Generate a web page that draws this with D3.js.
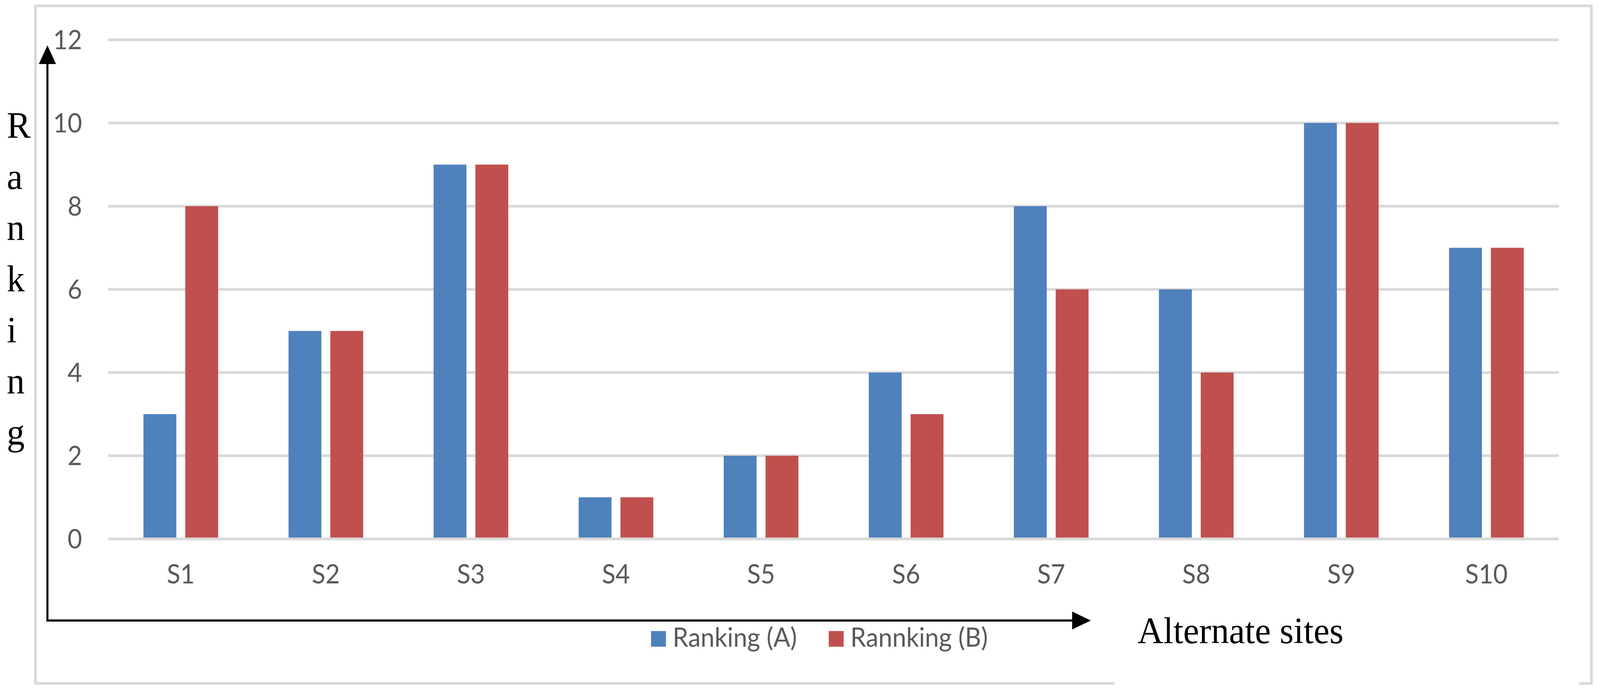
<!DOCTYPE html>
<html>
<head>
<meta charset="utf-8">
<script src="https://cdn.jsdelivr.net/npm/d3@7"></script>
<style>
  html, body { margin: 0; padding: 0; background: #ffffff; overflow: hidden; }
  svg { display: block; width: 100vw; height: 100vh; }
</style>
</head>
<body>
<svg id="chart" viewBox="0 0 4286 1790" preserveAspectRatio="none"></svg>
<script>
// ---- data ----
const categories = ["S1", "S2", "S3", "S4", "S5", "S6", "S7", "S8", "S9", "S10"];
const seriesNames = ["Ranking (A)", "Rannking (B)"];
const rankingA = [3, 5, 9, 1, 2, 4, 8, 6, 10, 7];
const rankingB = [8, 5, 9, 1, 2, 3, 6, 4, 10, 7];
const yTicks = [0, 2, 4, 6, 8, 10, 12];
const yTitleLetters = ["R", "a", "n", "k", "i", "n", "g"];
const xTitle = "Alternate sites";

// ---- styles ----
const colors = ["#4f81bd", "#c0504d"];
const gridColor = "#d9d9d9";
const textColor = "#595959";
const tickFont = "Lato, 'Open Sans', sans-serif";
const serifFont = "'Liberation Serif', 'Times New Roman', serif";

const svg = d3.select("#chart");
svg.append("rect").attr("x", 0).attr("y", 0).attr("width", 4286).attr("height", 1790).attr("fill", "#fff");

// outer chart border
svg.append("rect")
  .attr("x", 95).attr("y", 15).attr("width", 4263 - 95).attr("height", 1750 - 15)
  .attr("fill", "none").attr("stroke", gridColor).attr("stroke-width", 7);

// scales
const x = d3.scaleBand().domain(categories).range([290, 4176]).paddingInner(0).paddingOuter(0);
const xs = d3.scaleBand().domain(seriesNames).range([-100, 100]).paddingInner(0.2143).paddingOuter(0);
const y = d3.scaleLinear().domain([0, 12]).range([1380, 102]);

// gridlines (behind bars)
svg.append("g").selectAll("line")
  .data(yTicks.filter(d => d !== 0))
  .join("line")
  .attr("x1", x.range()[0]).attr("x2", x.range()[1])
  .attr("y1", d => y(d)).attr("y2", d => y(d))
  .attr("stroke", gridColor).attr("stroke-width", 7);

// bars
const rows = categories.map((c, i) => ({ cat: c, vals: [rankingA[i], rankingB[i]] }));
const groups = svg.append("g").selectAll("g")
  .data(rows).join("g")
  .attr("transform", d => `translate(${x(d.cat) + x.bandwidth() / 2},0)`);
groups.selectAll("rect")
  .data(d => d.vals.map((v, j) => ({ s: seriesNames[j], v, j })))
  .join("rect")
  .attr("x", d => xs(d.s))
  .attr("width", xs.bandwidth())
  .attr("y", d => y(d.v))
  .attr("height", d => y(0) - y(d.v))
  .attr("fill", d => colors[d.j]);

// zero axis line
svg.append("line")
  .attr("x1", x.range()[0]).attr("x2", x.range()[1])
  .attr("y1", y(0)).attr("y2", y(0))
  .attr("stroke", gridColor).attr("stroke-width", 7);

// y tick labels
svg.append("g").selectAll("text")
  .data(yTicks).join("text")
  .attr("x", 220).attr("y", d => y(d) + 24)
  .attr("text-anchor", "end")
  .attr("font-family", tickFont).attr("font-size", 67)
  .attr("fill", textColor)
  .text(d => d);

// x tick labels
svg.append("g").selectAll("text")
  .data(categories).join("text")
  .attr("x", d => x(d) + x.bandwidth() / 2).attr("y", 1494)
  .attr("text-anchor", "middle")
  .attr("font-family", tickFont).attr("font-size", 67)
  .attr("fill", textColor)
  .text(d => d);

// legend
const legendX = [1744, 2220];
const legend = svg.append("g").selectAll("g")
  .data(seriesNames).join("g")
  .attr("transform", (d, i) => `translate(${legendX[i]},0)`);
legend.append("rect")
  .attr("x", 0).attr("y", 1616).attr("width", 40).attr("height", 40)
  .attr("fill", (d, i) => colors[i]);
legend.append("text")
  .attr("x", 58).attr("y", 1656)
  .attr("font-family", tickFont).attr("font-size", 67)
  .attr("fill", textColor)
  .text(d => d);

// white box covering part of border (text box in original)
svg.append("rect")
  .attr("x", 2986).attr("y", 1600).attr("width", 4230 - 2986).attr("height", 190)
  .attr("fill", "#fff");

// black arrow axes
svg.append("path")
  .attr("d", `M127,163 L127,1589 L2873,1589`)
  .attr("fill", "none").attr("stroke", "#000").attr("stroke-width", 5.5)
  .attr("stroke-linejoin", "miter");
svg.append("path")
  .attr("d", `M127,116 L150,164 L104,164 Z`)
  .attr("fill", "#000");
svg.append("path")
  .attr("d", `M2922,1589 L2872,1566 L2872,1612 Z`)
  .attr("fill", "#000");

// y title (stacked letters)
svg.append("g").selectAll("text")
  .data(yTitleLetters).join("text")
  .attr("x", 18).attr("y", (d, i) => 353 + i * 131)
  .attr("font-family", serifFont).attr("font-size", 96)
  .attr("fill", "#000")
  .text(d => d);

// x title
svg.append("text")
  .attr("x", 3047).attr("y", 1647)
  .attr("font-family", serifFont).attr("font-size", 96)
  .attr("fill", "#000")
  .text(xTitle);
</script>
</body>
</html>
